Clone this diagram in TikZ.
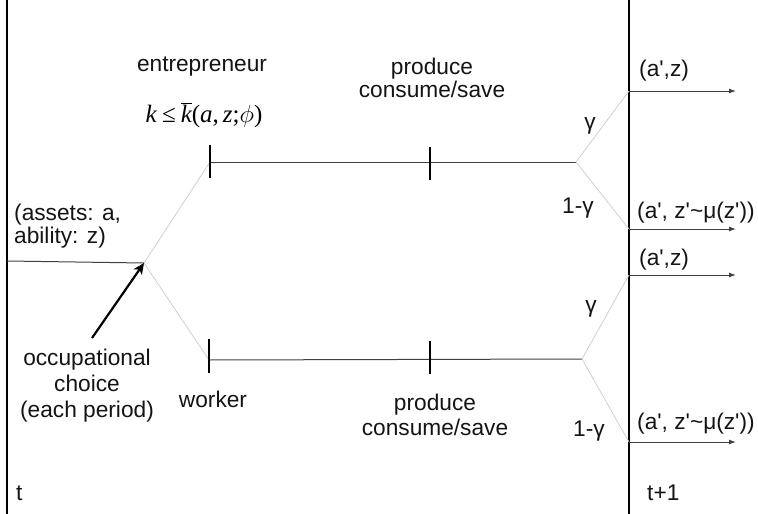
\documentclass[tikz,border=0pt]{standalone}
\usepackage{fontspec}
\setmainfont{Liberation Sans}[Ligatures=TeXOff]
\newfontfamily\tms{Liberation Serif}
\usetikzlibrary{arrows.meta}
\definecolor{hline}{HTML}{404040}
\definecolor{branch}{HTML}{CFCFCF}
\tikzset{
  lbl/.style={inner sep=0pt, font=\fontsize{22.7}{26}\selectfont, text=black!92},
  lblw/.style={lbl, anchor=base west},
  lblc/.style={lbl, anchor=base},
  vline/.style={line width=1.3pt, black},
  hl/.style={line width=1pt, hline},
  br/.style={line width=0.8pt, branch},
  tick/.style={line width=1.3pt, black},
  outarr/.style={line width=1pt, hline, -{Latex[length=7pt,width=5pt]}},
  bigarr/.style={line width=2.2pt, black, -{Stealth[length=11pt,width=10pt,inset=3pt]}}
}
\begin{document}
\begin{tikzpicture}[x=1pt,y=-1pt]
\useasboundingbox (0,0) rectangle (758,514);
% time lines
\coordinate (Lt) at (7,0);   \coordinate (Lb) at (7,514);
\coordinate (Rt) at (629,0); \coordinate (Rb) at (629,514);
\draw[vline] (Lt) -- (Lb);
\draw[vline] (Rt) -- (Rb);
% input
\coordinate (in) at (7,261);
\coordinate (b0) at (144,263);
\draw[hl] (in) -- (b0);
% upper branch
\coordinate (u1) at (210,162);
\coordinate (u2) at (430,162);
\coordinate (uf) at (576,162);
\coordinate (ua) at (629,91);
\coordinate (ub) at (629,229);
\coordinate (uae) at (736,91);
\coordinate (ube) at (736,229);
\draw[br] (b0) -- (u1);
\draw[hl] (u1) -- (uf);
\draw[tick] ([yshift=-16pt]u1) -- ([yshift=17pt]u1);
\draw[tick] ([yshift=-18pt]u2) -- ([yshift=15pt]u2);
\draw[br] (uf) -- (ua);
\draw[br] (uf) -- (ub);
\draw[outarr] (ua) -- (uae);
\draw[outarr] (ub) -- (ube);
% lower branch
\coordinate (l1) at (209,360);
\coordinate (l2) at (430,360);
\coordinate (lf) at (582,359);
\coordinate (la) at (629,275);
\coordinate (lb) at (629,442);
\coordinate (lae) at (736,275);
\coordinate (lbe) at (736,442);
\draw[br] (b0) -- (l1);
\draw[hl] (l1) -- (lf);
\draw[tick] ([yshift=-13pt]l1) -- ([yshift=21pt]l1);
\draw[tick] ([yshift=-14pt]l2) -- ([yshift=19pt]l2);
\draw[br] (lf) -- (la);
\draw[br] (lf) -- (lb);
\draw[outarr] (la) -- (lae);
\draw[outarr] (lb) -- (lbe);
% occupational choice arrow
\coordinate (oc) at (92,338);
\draw[bigarr] (oc) -- (b0);
% labels
\node[lblc] (ent) at (202,71) {entrepreneur};
\node[inner sep=0pt, anchor=base, font=\tms\fontsize{25}{28}\selectfont] (kbar) at (204,122)
  {\textit{k}\hspace{5pt}≤\hspace{5pt}$\overline{\hbox{\tms\itshape k}}$(\textit{a},\hspace{4pt}\textit{z};$\phi$)};
\node[lblc] (pu1) at (432,74) {produce};
\node[lblc] (pu2) at (432,97) {consume/save};
\node[lblw] (ass1) at (14,220) {(assets: a,};
\node[lblw] (ass2) at (14,243) {ability: z)};
\node[lblc] (occ1) at (87,365) {occupational};
\node[lblc] (occ2) at (87,391) {choice};
\node[lblc] (occ3) at (87,417) {(each period)};
\node[lblc] (wrk) at (213,407) {worker};
\node[lblc] (pl1) at (435,410) {produce};
\node[lblc] (pl2) at (435,435) {consume/save};
\node[lbl, anchor=center] (g1) at (590,126) {γ};
\node[lbl, anchor=center] (g2) at (578,208) {1-γ};
\node[lbl, anchor=center] (g3) at (591,309) {γ};
\node[lbl, anchor=center] (g4) at (589,431) {1-γ};
\node[lblw] (o1) at (639,76) {(a',z)};
\node[lblw] (o2) at (637,218) {(a', z'\char"007E μ(z'))};
\node[lblw] (o3) at (639,265) {(a',z)};
\node[lblw] (o4) at (637,429) {(a', z'\char"007E μ(z'))};
\node[lblw] (t0) at (16,500) {t};
\node[lblw] (t1) at (647,500) {t+1};
\end{tikzpicture}
\end{document}
